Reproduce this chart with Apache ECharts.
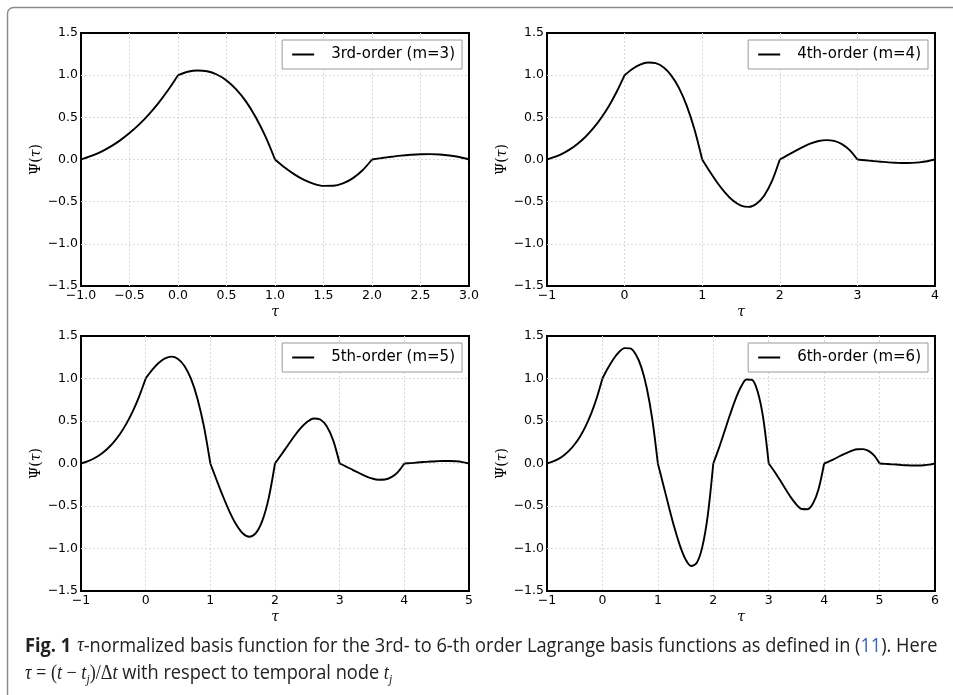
<!DOCTYPE html>
<html>
<head>
<meta charset="utf-8">
<script src="https://cdn.jsdelivr.net/npm/echarts@6/dist/echarts.min.js"></script>
<style>
html, body { margin: 0; padding: 0; background: #fff; }
#chart { width: 953px; height: 695px; }
</style>
</head>
<body>
<div id="chart"></div>
<script>
// tau samples shared by all panels (each panel uses the first N)
const tau = [
	-1.0, -0.9, -0.8, -0.7, -0.6, -0.5, -0.4, -0.3, -0.2, -0.1,
	0.0, 0.1, 0.2, 0.3, 0.4, 0.5, 0.6, 0.7, 0.8, 0.9,
	1.0, 1.1, 1.2, 1.3, 1.4, 1.5, 1.6, 1.7, 1.8, 1.9,
	2.0, 2.1, 2.2, 2.3, 2.4, 2.5, 2.6, 2.7, 2.8, 2.9,
	3.0, 3.1, 3.2, 3.3, 3.4, 3.5, 3.6, 3.7, 3.8, 3.9,
	4.0, 4.1, 4.2, 4.3, 4.4, 4.5, 4.6, 4.7, 4.8, 4.9,
	5.0, 5.1, 5.2, 5.3, 5.4, 5.5, 5.6, 5.7, 5.8, 5.9,
	6.0,
];

// Psi(tau)
const psi3 = [
	0, 0.039, 0.088, 0.150, 0.224, 0.313, 0.416, 0.536, 0.672, 0.827, 1,
	1.040, 1.056, 1.047, 1.008, 0.938, 0.832, 0.689, 0.504, 0.276, 0,
	-0.095, -0.176, -0.242, -0.288, -0.313, -0.312, -0.284, -0.224, -0.131, 0,
	0.017, 0.032, 0.046, 0.056, 0.063, 0.064, 0.060, 0.048, 0.029, 0,
];
const psi4 = [
	0, 0.030, 0.070, 0.123, 0.190, 0.273, 0.374, 0.495, 0.638, 0.806, 1,
	1.074, 1.126, 1.151, 1.142, 1.094, 0.998, 0.849, 0.638, 0.358, 0,
	-0.146, -0.282, -0.398, -0.490, -0.547, -0.562, -0.524, -0.426, -0.254, 0,
	0.051, 0.102, 0.150, 0.190, 0.219, 0.230, 0.220, 0.182, 0.111, 0,
	-0.009, -0.018, -0.026, -0.034, -0.039, -0.042, -0.040, -0.034, -0.021, 0,
];
const psi5 = [
	0, 0.024, 0.059, 0.106, 0.168, 0.246, 0.344, 0.466, 0.613, 0.790, 1,
	1.101, 1.183, 1.237, 1.257, 1.230, 1.148, 0.998, 0.766, 0.439, 0,
	-0.200, -0.394, -0.571, -0.718, -0.820, -0.861, -0.822, -0.681, -0.416, 0,
	0.105, 0.215, 0.323, 0.419, 0.492, 0.530, 0.517, 0.438, 0.272, 0,
	-0.036, -0.074, -0.112, -0.148, -0.176, -0.191, -0.189, -0.161, -0.101, 0,
	0.005, 0.011, 0.017, 0.023, 0.027, 0.030, 0.030, 0.026, 0.016, 0,
];
const psi6 = [
	0, 0.021, 0.051, 0.094, 0.151, 0.226, 0.321, 0.442, 0.592, 0.777, 1,
	1.123, 1.230, 1.312, 1.357, 1.354, 1.286, 1.137, 0.889, 0.518, 0,
	-0.255, -0.513, -0.757, -0.969, -1.128, -1.206, -1.171, -0.987, -0.613, 0,
	0.178, 0.373, 0.570, 0.754, 0.902, 0.989, 0.983, 0.846, 0.536, 0,
	-0.091, -0.192, -0.298, -0.399, -0.483, -0.536, -0.538, -0.468, -0.299, 0,
	0.027, 0.059, 0.092, 0.123, 0.150, 0.168, 0.169, 0.148, 0.095, 0,
	-0.004, -0.008, -0.012, -0.017, -0.021, -0.023, -0.023, -0.020, -0.013, 0,
];

const seriesNames = ['3rd-order (m=3)', '4th-order (m=4)', '5th-order (m=5)', '6th-order (m=6)'];
const seriesValues = [psi3, psi4, psi5, psi6];
const xMax = [3, 4, 5, 6];
const xStep = [0.5, 1, 1, 1];
const xDecimals = [1, 0, 0, 0];
const yTicks = [-1.5, -1.0, -0.5, 0.0, 0.5, 1.0, 1.5];
const perUnit = 10; // samples per unit of tau

const panels = [
	{ left: 81, top: 33, width: 388, height: 253 },
	{ left: 547, top: 33, width: 388, height: 253 },
	{ left: 81, top: 336, width: 388, height: 255 },
	{ left: 547, top: 336, width: 388, height: 255 },
];

const minus = (v, d) => v.toFixed(d).replace('-', '\u2212');
const tickFont = { fontFamily: 'DejaVu Sans', fontSize: 12.5, color: '#000' };
// no grid line on the frame itself
const gridLine = { show: true, showMinLine: false, showMaxLine: false, lineStyle: { color: '#d9d9d9', type: [2, 2], width: 1 } };

const chart = echarts.init(document.getElementById('chart'));

const grid = [];
const xAxis = [];
const yAxis = [];
const series = [];
const legend = [];

panels.forEach((p, i) => {
	grid.push({ ...p, show: true, borderColor: '#000', borderWidth: 2, backgroundColor: '#fff', containLabel: false });
	xAxis.push({
		gridIndex: i,
		type: 'value',
		min: -1,
		max: xMax[i],
		interval: xStep[i],
		name: 'τ',
		nameLocation: 'middle',
		nameGap: 19,
		nameTextStyle: { fontFamily: 'DejaVu Serif', fontStyle: 'italic', fontSize: 14, color: '#000' },
		axisLine: { show: false },
		axisTick: { show: false },
		axisLabel: { ...tickFont, margin: 3, formatter: (v) => minus(v, xDecimals[i]) },
		splitLine: gridLine,
	});
	yAxis.push({
		gridIndex: i,
		type: 'value',
		min: yTicks[0],
		max: yTicks[yTicks.length - 1],
		interval: 0.5,
		name: 'Ψ({i|τ})',
		nameLocation: 'middle',
		nameGap: 37,
		nameTextStyle: {
			fontFamily: 'DejaVu Serif',
			fontSize: 14,
			color: '#000',
			rich: { i: { fontFamily: 'DejaVu Serif', fontStyle: 'italic', fontSize: 14, color: '#000' } },
		},
		axisLine: { show: false },
		axisTick: { show: false },
		axisLabel: { ...tickFont, margin: 3, formatter: (v) => minus(v, 1) },
		splitLine: gridLine,
	});
	// one smooth piece per unit interval so the kinks at the nodes stay sharp
	const vals = seriesValues[i];
	for (let k = 0; k < xMax[i] + 1; k++) {
		const from = k * perUnit;
		const piece = [];
		for (let n = from; n <= from + perUnit && n < vals.length; n++) piece.push([tau[n], vals[n]]);
		series.push({
			name: seriesNames[i],
			type: 'line',
			xAxisIndex: i,
			yAxisIndex: i,
			showSymbol: false,
			symbol: 'none',
			smooth: 0.3,
			lineStyle: { color: '#000', width: 1.9 },
			itemStyle: { color: '#000' },
			data: piece,
		});
	}
	// matplotlib style legend box in the upper right corner
	legend.push({
		data: [seriesNames[i]],
		right: 953 - (p.left + p.width) + 7,
		top: p.top + 7,
		orient: 'vertical',
		icon: 'rect',
		itemWidth: 22,
		itemHeight: 2,
		padding: [7, 7, 7, 10],
		borderColor: '#9a9a9a',
		borderWidth: 1,
		backgroundColor: '#fff',
		selectedMode: false,
		textStyle: { fontFamily: 'DejaVu Sans', fontSize: 15, color: '#000', padding: [0, 0, 0, 12] },
	});
});

const capFont = "'Open Sans', sans-serif";

const option = {
	animation: false,
	backgroundColor: '#fff',
	grid,
	xAxis,
	yAxis,
	legend,
	series,
	graphic: [
		{
			type: 'rect',
			shape: { x: 7.5, y: 7.5, width: 1000, height: 800, r: 6 },
			style: { fill: 'none', stroke: '#8c8c8c', lineWidth: 1.5 },
			silent: true,
		},
		{
			type: 'text',
			x: 25,
			y: 636,
			scaleX: 0.91,
			style: {
				text: '{b|Fig. 1}  {m|τ}{n|-normalized basis function for the 3rd- to 6-th order Lagrange basis functions as defined in (}{l|11}{n|). Here}',
				rich: {
					b: { fontFamily: capFont, fontWeight: 'bold', fontSize: 20, fill: '#222' },
					m: { fontFamily: 'Liberation Serif', fontStyle: 'italic', fontSize: 20, fill: '#222' },
					n: { fontFamily: capFont, fontSize: 20, fill: '#222' },
					l: { fontFamily: capFont, fontSize: 20, fill: '#3a64b4' },
				},
			},
		},
		{
			type: 'text',
			x: 25,
			y: 661,
			scaleX: 0.91,
			style: {
				text: '{m|τ}{s| = (}{m|t}{s| − }{m|t}{sub|j}{s|)/Δ}{m|t}{n| with respect to temporal node }{m|t}{sub|j}',
				rich: {
					m: { fontFamily: 'Liberation Serif', fontStyle: 'italic', fontSize: 20, fill: '#222' },
					s: { fontFamily: 'Liberation Serif', fontSize: 20, fill: '#222' },
					n: { fontFamily: capFont, fontSize: 20, fill: '#222' },
					sub: { fontFamily: 'Liberation Serif', fontStyle: 'italic', fontSize: 13, fill: '#222', padding: [12, 0, 0, 0] },
				},
			},
		},
	],
};

chart.setOption(option);
</script>
</body>
</html>
